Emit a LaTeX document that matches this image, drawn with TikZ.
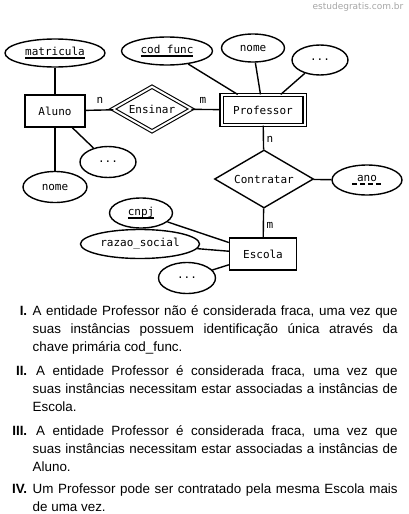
\documentclass[tikz,border=0pt]{standalone}
\usepackage{fontspec}
\setmainfont{Liberation Sans}
\newfontfamily\ermono{DejaVu Sans Mono}
\newfontfamily\wmfont{DejaVu Sans}
\usetikzlibrary{shapes.geometric}
\newsavebox\erbox
\newcommand\erkey[1]{\sbox\erbox{#1}\rlap{\rule[-3.2pt]{\wd\erbox}{1.4pt}}\usebox\erbox}
\newcommand\erpartial[1]{\sbox\erbox{#1}\rlap{\hbox to \wd\erbox{\xleaders\hbox{\kern1pt\rule[-3.2pt]{5pt}{1.4pt}\kern1.5pt}\hfill}}\usebox\erbox}
\begin{document}
\begin{tikzpicture}[x=1pt, y=-1pt, line width=1.4pt,
    er/.style    ={font=\ermono\fontsize{11}{13}\selectfont, inner sep=0pt},
    entity/.style={er, draw, rectangle, minimum height=32},
    weak/.style  ={entity, double, double distance=2pt, line width=1.1pt},
    rel/.style   ={er, draw, diamond},
    attr/.style  ={er, draw, ellipse},
    card/.style  ={er},
    item/.style  ={anchor=north west, text width=365pt, align=justify, inner sep=0pt,
                   font=\fontsize{13.4}{18}\selectfont},
  ]
  \path[use as bounding box, fill=white] (0,0) rectangle (408,514);
  \node[anchor=north east, inner sep=0pt, font=\wmfont\fontsize{9}{10}\selectfont, text=gray!70] (wm) at (404,2) {estudegratis.com.br};

  % entities and relationships
  \node[entity, minimum width=60] (aluno) at (55,111) {Aluno};
  \node[weak, minimum width=83, minimum height=30] (prof) at (263,110) {Professor};
  \node[entity, minimum width=67] (escola) at (263,254) {Escola};
  \node[rel, double, double distance=2pt, line width=1.1pt, aspect=1.75,
        minimum width=79, minimum height=45] (ensinar) at (152,109) {Ensinar};
  \node[rel, aspect=1.7, minimum width=99, minimum height=58] (contratar) at (264,179) {Contratar};

  % attributes
  \node[attr, minimum width=100, minimum height=28] (matricula) at (55,53) {\erkey{matricula}};
  \node[attr, minimum width=64, minimum height=31] (anome) at (55,187) {nome};
  \node[attr, minimum width=56, minimum height=31] (amais) at (108,162) {...};
  \node[attr, minimum width=91, minimum height=28] (codfunc) at (167,51) {\erkey{cod\_func}};
  \node[attr, minimum width=63, minimum height=28] (pnome) at (253,48) {nome};
  \node[attr, minimum width=56, minimum height=30] (pmais) at (320,60) {...};
  \node[attr, minimum width=70, minimum height=30] (ano) at (367,180) {\erpartial{\kern6pt ano\kern6pt}};
  \node[attr, minimum width=63, minimum height=30] (cnpj) at (141,213) {\erkey{cnpj}};
  \node[attr, minimum width=119, minimum height=29] (razao) at (140,244) {razao\_social};
  \node[attr, minimum width=57, minimum height=31] (emais) at (187,278) {...};

  % connectors
  \draw (matricula) -- (aluno);
  \draw (aluno) -- (anome);
  \draw (aluno) -- (amais);
  \draw (aluno) -- (ensinar);
  \draw (ensinar) -- (prof);
  \draw (codfunc) -- (prof);
  \draw (pnome) -- (prof);
  \draw (pmais) -- (prof);
  \draw (prof) -- (contratar);
  \draw (contratar) -- (ano);
  \draw (contratar) -- (escola);
  \draw (cnpj) -- (escola);
  \draw (razao) -- (escola);
  \draw (emais) -- (escola);

  % cardinalities
  \node[card] (c1) at (100,100) {n};
  \node[card] (c2) at (203,100) {m};
  \node[card] (c3) at (270,139) {n};
  \node[card] (c4) at (270,225) {m};

  % statements
  \node[item] (it1) at (32,302.4) {\noindent\strut\llap{\textbf{I.}\hspace{5.5pt}}A entidade Professor não é considerada fraca, uma vez que\linebreak suas instâncias possuem identificação única através da\linebreak chave primária cod\_func.};
  \node[item] (it2) at (32,362.4) {\noindent\strut\llap{\textbf{II.}\hspace{5.5pt}}\hspace{3.5pt}A entidade Professor é considerada fraca, uma vez que\linebreak suas instâncias necessitam estar associadas a instâncias de\linebreak Escola.};
  \node[item] (it3) at (32,422.4) {\noindent\strut\llap{\textbf{III.}\hspace{5.5pt}}\hspace{3.5pt}A entidade Professor é considerada fraca, uma vez que\linebreak suas instâncias necessitam estar associadas a instâncias de\linebreak Aluno.};
  \node[item] (it4) at (32,480.4) {\noindent\strut\llap{\textbf{IV.}\hspace{5.5pt}}Um Professor pode ser contratado pela mesma Escola mais\linebreak de uma vez.};
\end{tikzpicture}
\end{document}
